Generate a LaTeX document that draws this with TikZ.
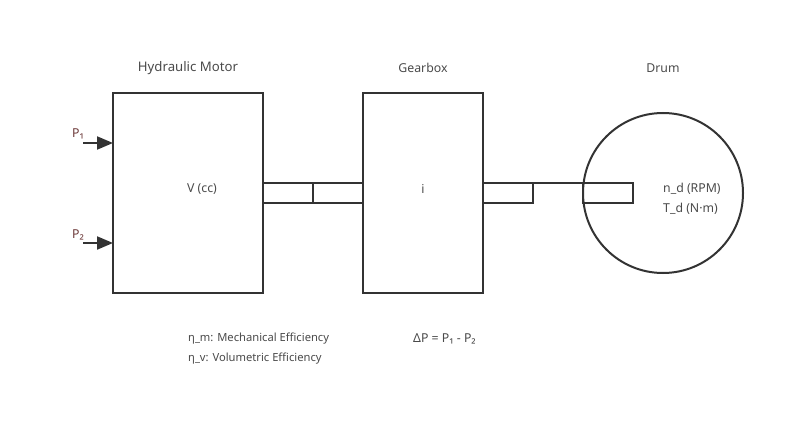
\documentclass[tikz,border=0pt]{standalone}
\usepackage{fontspec}
\setmainfont{Noto Sans}
\usetikzlibrary{arrows.meta}
\definecolor{linec}{HTML}{333333}
\definecolor{textc}{HTML}{4A4A4A}
\begin{document}
\begin{tikzpicture}[x=1pt,y=-1pt,
  box/.style={draw=linec,line width=2pt,minimum width=#1,minimum height=200pt,inner sep=0pt,outer sep=0pt},
  shaftbox/.style={draw=linec,line width=2pt,minimum width=50pt,minimum height=20pt,inner sep=0pt,outer sep=0pt},
  lbl/.style={text=textc,font=\fontsize{12.3}{14}\selectfont,inner sep=0pt},
  note/.style={lbl,anchor=west,font=\fontsize{11.2}{14}\selectfont},
  inarrow/.style={draw=linec,line width=2pt,-{Triangle[length=16pt,width=13pt]}}]
\useasboundingbox (0,0) rectangle (800,425);
% boxes
\node[box=150pt] (motor) at (188,193) {};
\node[box=120pt] (gear) at (423,193) {};
\node[draw=linec,line width=2pt,circle,minimum size=160pt,inner sep=0pt,outer sep=0pt] (drum) at (663,193) {};
% shafts
\node[shaftbox] (s1) at (288,193) {};
\node[shaftbox] (s2) at (338,193) {};
\node[shaftbox] (s3) at (508,193) {};
\node[shaftbox] (s4) at (608,193) {};
\draw[draw=linec,line width=2pt] (s3.north east) -- (s4.north west);
% titles
\node[lbl,font=\fontsize{13.2}{15}\selectfont] (tm) at (188,68) {Hydraulic Motor};
\node[lbl] (tg) at (423,68) {Gearbox};
\node[lbl] (td) at (663,68) {Drum};
% inner labels
\node[lbl] (vcc) at (202,189) {V (cc)};
\node[lbl] (ii) at (423,189) {i};
\node[lbl,anchor=west] (nd) at (663,189) {n\_d (RPM)};
\node[lbl,anchor=west] (Td) at (663,209) {T\_d (N·m)};
% pressure inputs
\coordinate (p1s) at (83,143);
\coordinate (p2s) at (83,243);
\draw[inarrow] (p1s) -- (motor.west |- p1s);
\draw[inarrow] (p2s) -- (motor.west |- p2s);
\node[lbl,text=textc!80!red] (p1) at (78,134) {P₁};
\node[lbl,text=textc!80!red] (p2) at (78,235) {P₂};
% notes
\node[note] (em) at (188,339) {η\_m: Mechanical Efficiency};
\node[note] (ev) at (188,359) {η\_v: Volumetric Efficiency};
\node[lbl,anchor=west] (dp) at (413,339) {ΔP = P₁ - P₂};
\end{tikzpicture}
\end{document}
